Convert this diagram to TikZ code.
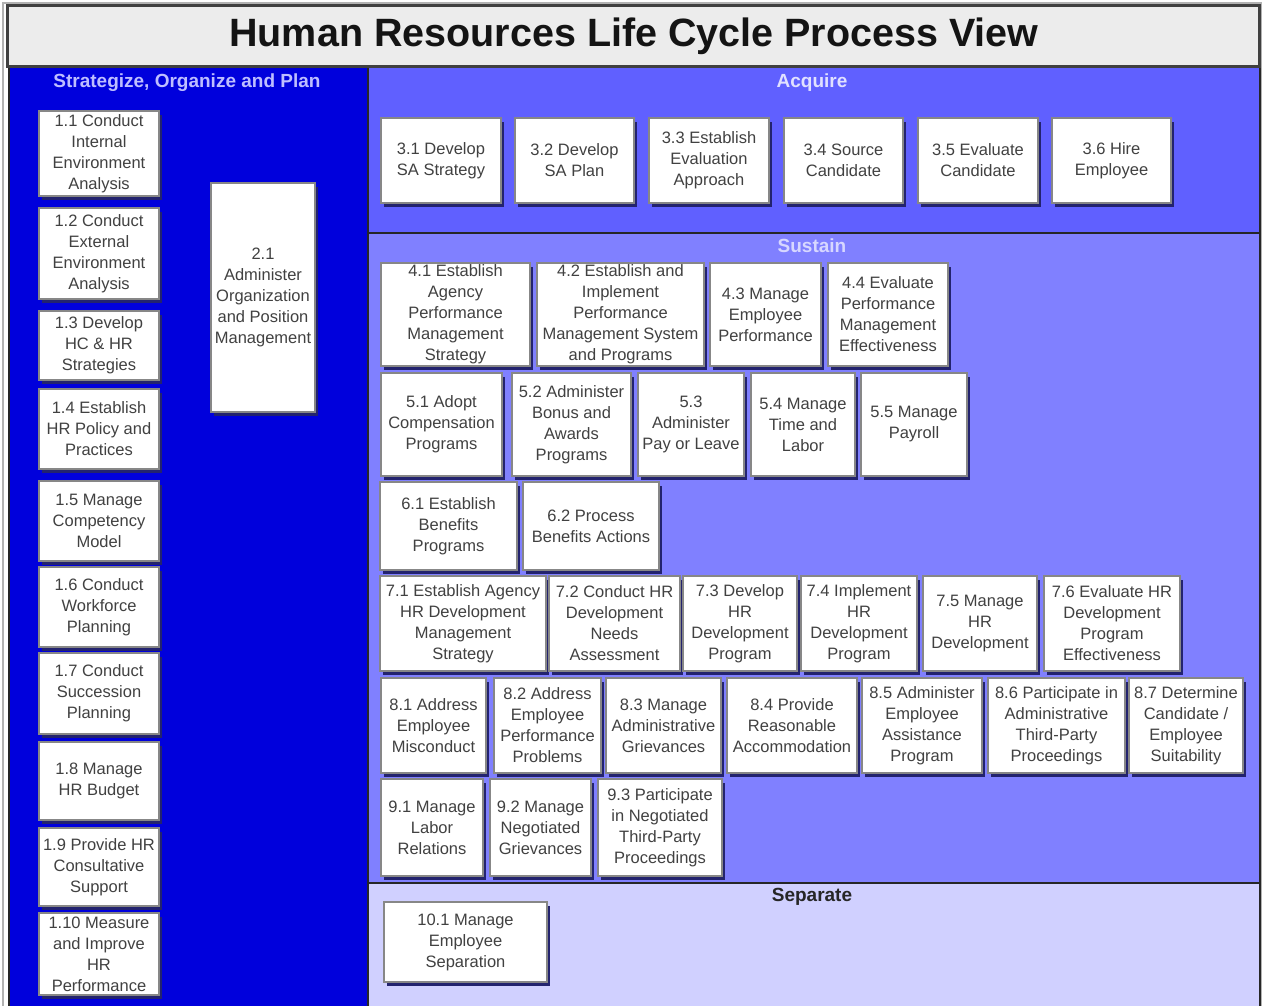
\documentclass[tikz,border=0pt]{standalone}
\usepackage{fontspec}
\setmainfont{Liberation Sans}
\usetikzlibrary{shadows}
\definecolor{leftblue}{RGB}{0,0,220}
\definecolor{acqblue}{RGB}{96,96,255}
\definecolor{susblue}{RGB}{128,128,255}
\definecolor{sepblue}{RGB}{208,208,255}
\definecolor{titlegray}{RGB}{236,236,236}
\definecolor{framegray}{RGB}{64,64,64}
\definecolor{boxedge}{RGB}{135,135,135}
\definecolor{shadownavy}{RGB}{35,35,110}
\definecolor{boxtext}{RGB}{65,65,65}
\definecolor{hdrlight}{RGB}{190,190,255}
\definecolor{hdracq}{RGB}{225,225,255}
\definecolor{hdrsus}{RGB}{215,215,255}
\tikzset{
 procbox/.style={draw=boxedge, line width=2.2pt, fill=white, inner sep=0pt, align=center,
   text=boxtext, font=\fontsize{16.5}{21}\selectfont,
   drop shadow={shadow xshift=3.2pt, shadow yshift=-3.6pt, fill=shadownavy, opacity=1}},
 panel/.style={draw=black!85, line width=2.5pt},
 hdr/.style={font=\fontsize{19}{22}\selectfont\bfseries, inner sep=0pt},
}
\newcommand\pbox[6]{\node[procbox, minimum width={(#4-#2)*1pt}, minimum height={(#5-#3)*1pt}] (#1) at ({(#2+#4)/2},{(#3+#5)/2}) {#6};}
\begin{document}
\begin{tikzpicture}[x=1pt,y=-1pt]
\useasboundingbox (0,0) rectangle (1264,1005);
% frame and panels
\fill[white] (0,0) rectangle (1264,1005);
\draw[draw=gray!60, line width=2pt] (3,3) rectangle (1261,1010);
\draw[panel, fill=leftblue] (9,67) rectangle (368,1012);
\draw[panel, fill=acqblue] (368,67) rectangle (1260,233);
\draw[panel, fill=susblue] (368,233) rectangle (1260,883);
\draw[panel, fill=sepblue] (368,883) rectangle (1260,1012);
\draw[fill=titlegray, draw=framegray, line width=3pt] (7,5) rectangle (1259,66);
\node[font=\fontsize{39.5}{44}\selectfont\bfseries, text=black!92, inner sep=0pt] (title) at (634,36) {Human Resources Life Cycle Process View};
% headers
\node[hdr, text=hdrlight] (hsop) at (187,83) {Strategize, Organize and Plan};
\node[hdr, text=hdracq] (hacq) at (812,83) {Acquire};
\node[hdr, text=hdrsus] (hsus) at (812,246) {Sustain};
\node[hdr, text=black!85] (hsep) at (812,897) {Separate};
% Strategize, Organize and Plan
\pbox{n11}{39}{111}{159}{196}{1.1 Conduct\\Internal\\Environment\\Analysis}
\pbox{n12}{39}{208}{159}{299}{1.2 Conduct\\External\\Environment\\Analysis}
\pbox{n13}{39}{311}{159}{380}{1.3 Develop\\HC \& HR\\Strategies}
\pbox{n14}{39}{389}{159}{469}{1.4 Establish\\HR Policy and\\Practices}
\pbox{n15}{39}{481}{159}{561}{1.5 Manage\\Competency\\Model}
\pbox{n16}{39}{567}{159}{647}{1.6 Conduct\\Workforce\\Planning}
\pbox{n17}{39}{653}{159}{734}{1.7 Conduct\\Succession\\Planning}
\pbox{n18}{39}{742}{159}{820}{1.8 Manage\\HR Budget}
\pbox{n19}{39}{828}{159}{906}{1.9 Provide HR\\Consultative\\Support}
\pbox{n110}{39}{913}{159}{995}{1.10 Measure\\and Improve\\HR\\Performance}
\pbox{n21}{211}{183}{315}{412}{2.1\\Administer\\Organization\\and Position\\Management}
% Acquire
\pbox{n31}{381}{118}{501}{203}{3.1 Develop\\SA Strategy}
\pbox{n32}{515}{118}{634}{203}{3.2 Develop\\SA Plan}
\pbox{n33}{649}{118}{769}{203}{3.3 Establish\\Evaluation\\Approach}
\pbox{n34}{784}{118}{903}{203}{3.4 Source\\Candidate}
\pbox{n35}{918}{118}{1038}{203}{3.5 Evaluate\\Candidate}
\pbox{n36}{1052}{118}{1171}{203}{3.6 Hire\\Employee}
% Sustain
\pbox{n41}{381}{263}{530}{366}{4.1 Establish\\Agency\\Performance\\Management\\Strategy}
\pbox{n42}{537}{263}{704}{366}{4.2 Establish and\\Implement\\Performance\\Management System\\and Programs}
\pbox{n43}{710}{263}{821}{366}{4.3 Manage\\Employee\\Performance}
\pbox{n44}{828}{263}{948}{366}{4.4 Evaluate\\Performance\\Management\\Effectiveness}
\pbox{n51}{381}{373}{502}{476}{5.1 Adopt\\Compensation\\Programs}
\pbox{n52}{512}{373}{631}{476}{5.2 Administer\\Bonus and\\Awards\\Programs}
\pbox{n53}{638}{373}{744}{476}{5.3\\Administer\\Pay or Leave}
\pbox{n54}{751}{373}{855}{476}{5.4 Manage\\Time and\\Labor}
\pbox{n55}{861}{373}{967}{476}{5.5 Manage\\Payroll}
\pbox{n61}{380}{482}{517}{570}{6.1 Establish\\Benefits\\Programs}
\pbox{n62}{523}{482}{659}{570}{6.2 Process\\Benefits Actions}
\pbox{n71}{380}{576}{546}{671}{7.1 Establish Agency\\HR Development\\Management\\Strategy}
\pbox{n72}{549}{576}{680}{671}{7.2 Conduct HR\\Development\\Needs\\Assessment}
\pbox{n73}{683}{576}{797}{671}{7.3 Develop\\HR\\Development\\Program}
\pbox{n74}{801}{576}{917}{671}{7.4 Implement\\HR\\Development\\Program}
\pbox{n75}{923}{576}{1037}{671}{7.5 Manage\\HR\\Development}
\pbox{n76}{1044}{576}{1180}{671}{7.6 Evaluate HR\\Development\\Program\\Effectiveness}
\pbox{n81}{381}{678}{486}{773}{8.1 Address\\Employee\\Misconduct}
\pbox{n82}{494}{678}{601}{773}{8.2 Address\\Employee\\Performance\\Problems}
\pbox{n83}{606}{678}{721}{773}{8.3 Manage\\Administrative\\Grievances}
\pbox{n84}{727}{678}{857}{773}{8.4 Provide\\Reasonable\\Accommodation}
\pbox{n85}{862}{678}{982}{773}{8.5 Administer\\Employee\\Assistance\\Program}
\pbox{n86}{988}{678}{1125}{773}{8.6 Participate in\\Administrative\\Third-Party\\Proceedings}
\pbox{n87}{1129}{678}{1243}{773}{8.7 Determine\\Candidate /\\Employee\\Suitability}
\pbox{n91}{381}{779}{483}{876}{9.1 Manage\\Labor\\Relations}
\pbox{n92}{490}{779}{591}{876}{9.2 Manage\\Negotiated\\Grievances}
\pbox{n93}{598}{779}{722}{876}{9.3 Participate\\in Negotiated\\Third-Party\\Proceedings}
% Separate
\pbox{n101}{384}{902}{547}{982}{10.1 Manage\\Employee\\Separation}
\end{tikzpicture}
\end{document}
